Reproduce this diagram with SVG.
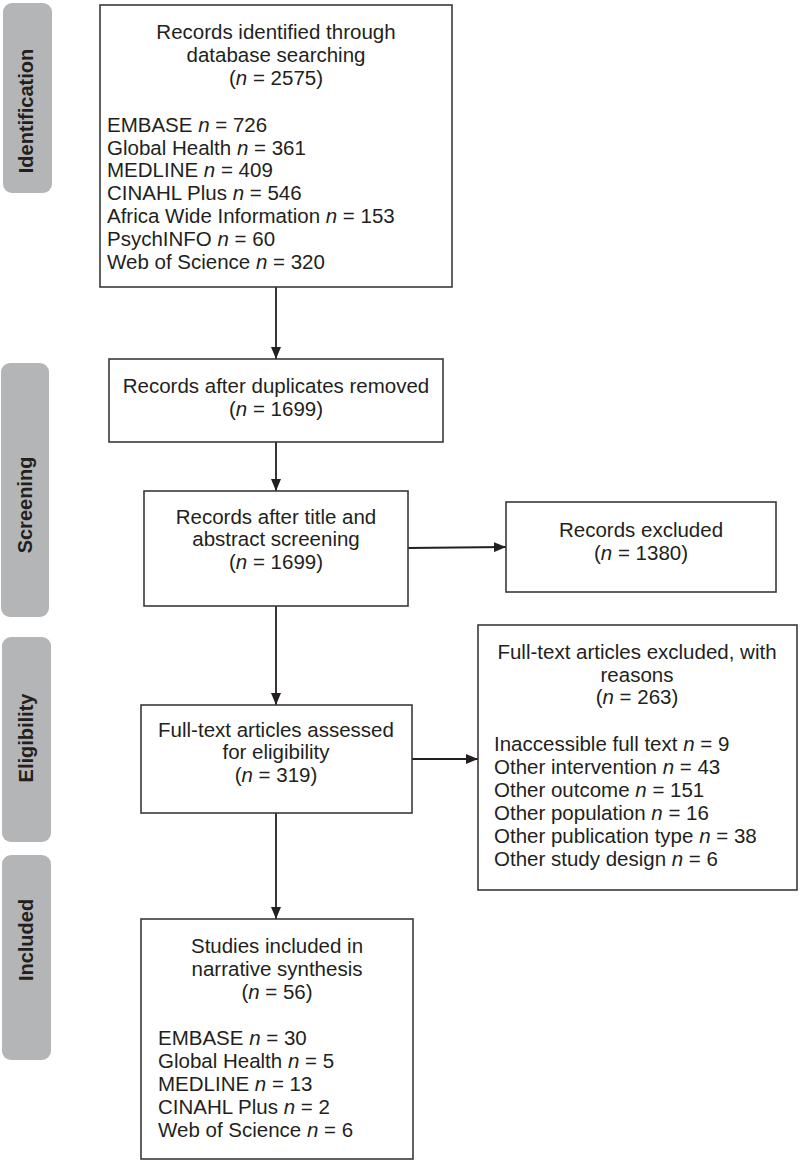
<svg xmlns="http://www.w3.org/2000/svg" width="800" height="1161" viewBox="0 0 800 1161">
<style>
.band{fill:#b4b5b7;}
.lbl{font-family:"Liberation Sans",Arial,sans-serif;font-weight:bold;font-size:20px;fill:#231f20;text-anchor:middle;}
.box{fill:#fff;stroke:#3a3a3a;stroke-width:1.6;}
.t{font-family:"Liberation Sans",Arial,sans-serif;font-size:20.5px;fill:#231f20;}
.c{text-anchor:middle;}
.i{font-style:italic;}
.con{stroke:#231f20;stroke-width:1.8;fill:none;marker-end:url(#ah);}
</style>
<defs>
<marker id="ah" markerUnits="userSpaceOnUse" markerWidth="12" markerHeight="10" refX="12" refY="5" orient="auto">
<path d="M0,0 L12,5 L0,10 z" fill="#231f20"/>
</marker>
</defs>
<rect width="800" height="1161" fill="#fff"/>
<g id="phase-identification"><rect class="band" x="3" y="3" width="49" height="190" rx="9"/><text class="lbl" transform="translate(33,111) rotate(-90)">Identification</text></g>
<g id="phase-screening"><rect class="band" x="1" y="363" width="48" height="254" rx="9"/><text class="lbl" transform="translate(32,505) rotate(-90)">Screening</text></g>
<g id="phase-eligibility"><rect class="band" x="2" y="637" width="49" height="205" rx="9"/><text class="lbl" transform="translate(33,738) rotate(-90)">Eligibility</text></g>
<g id="phase-included"><rect class="band" x="2" y="855" width="49" height="205" rx="9"/><text class="lbl" transform="translate(33,940) rotate(-90)">Included</text></g>

<g id="connectors">
<line class="con" x1="276" y1="287" x2="276" y2="359"/>
<line class="con" x1="276" y1="442" x2="276" y2="491"/>
<line class="con" x1="408" y1="548" x2="506" y2="547"/>
<line class="con" x1="276" y1="606" x2="276" y2="705"/>
<line class="con" x1="412" y1="759" x2="478" y2="759"/>
<line class="con" x1="276" y1="813" x2="276" y2="919"/>
</g>

<g id="n1"><rect class="box" x="100" y="5" width="352" height="282"/>
<text class="t c" x="276" y="39">Records identified through</text>
<text class="t c" x="276" y="62">database searching</text>
<text class="t c" x="276" y="85">(<tspan class="i">n</tspan> = 2575)</text>
<text class="t" x="107" y="132">EMBASE <tspan class="i">n</tspan> = 726</text>
<text class="t" x="107" y="155">Global Health <tspan class="i">n</tspan> = 361</text>
<text class="t" x="107" y="177">MEDLINE <tspan class="i">n</tspan> = 409</text>
<text class="t" x="107" y="200">CINAHL Plus <tspan class="i">n</tspan> = 546</text>
<text class="t" x="107" y="223">Africa Wide Information <tspan class="i">n</tspan> = 153</text>
<text class="t" x="107" y="246">PsychINFO <tspan class="i">n</tspan> = 60</text>
<text class="t" x="107" y="269">Web of Science <tspan class="i">n</tspan> = 320</text>
</g>
<g id="n2"><rect class="box" x="109" y="359" width="334" height="83"/>
<text class="t c" x="276" y="393">Records after duplicates removed</text>
<text class="t c" x="276" y="416">(<tspan class="i">n</tspan> = 1699)</text>
</g>
<g id="n3"><rect class="box" x="144" y="491" width="264" height="115"/>
<text class="t c" x="276" y="524">Records after title and</text>
<text class="t c" x="276" y="546">abstract screening</text>
<text class="t c" x="276" y="569">(<tspan class="i">n</tspan> = 1699)</text>
</g>
<g id="n4"><rect class="box" x="506" y="502" width="270" height="90"/>
<text class="t c" x="641" y="537">Records excluded</text>
<text class="t c" x="641" y="560">(<tspan class="i">n</tspan> = 1380)</text>
</g>
<g id="n5"><rect class="box" x="141" y="705" width="271" height="108"/>
<text class="t c" x="276" y="737">Full-text articles assessed</text>
<text class="t c" x="276" y="759">for eligibility</text>
<text class="t c" x="276" y="782">(<tspan class="i">n</tspan> = 319)</text>
</g>
<g id="n6"><rect class="box" x="478" y="625" width="319" height="265"/>
<text class="t c" x="637" y="659">Full-text articles excluded, with</text>
<text class="t c" x="637" y="682">reasons</text>
<text class="t c" x="637" y="704">(<tspan class="i">n</tspan> = 263)</text>
<text class="t" x="494" y="751">Inaccessible full text <tspan class="i">n</tspan> = 9</text>
<text class="t" x="494" y="774">Other intervention <tspan class="i">n</tspan> = 43</text>
<text class="t" x="494" y="797">Other outcome <tspan class="i">n</tspan> = 151</text>
<text class="t" x="494" y="820">Other population <tspan class="i">n</tspan> = 16</text>
<text class="t" x="494" y="843">Other publication type <tspan class="i">n</tspan> = 38</text>
<text class="t" x="494" y="866">Other study design <tspan class="i">n</tspan> = 6</text>
</g>
<g id="n7"><rect class="box" x="141" y="919" width="272" height="240"/>
<text class="t c" x="277" y="953">Studies included in</text>
<text class="t c" x="277" y="976">narrative synthesis</text>
<text class="t c" x="277" y="999">(<tspan class="i">n</tspan> = 56)</text>
<text class="t" x="158" y="1045">EMBASE <tspan class="i">n</tspan> = 30</text>
<text class="t" x="158" y="1068">Global Health <tspan class="i">n</tspan> = 5</text>
<text class="t" x="158" y="1091">MEDLINE <tspan class="i">n</tspan> = 13</text>
<text class="t" x="158" y="1114">CINAHL Plus <tspan class="i">n</tspan> = 2</text>
<text class="t" x="158" y="1137">Web of Science <tspan class="i">n</tspan> = 6</text>
</g>
</svg>
